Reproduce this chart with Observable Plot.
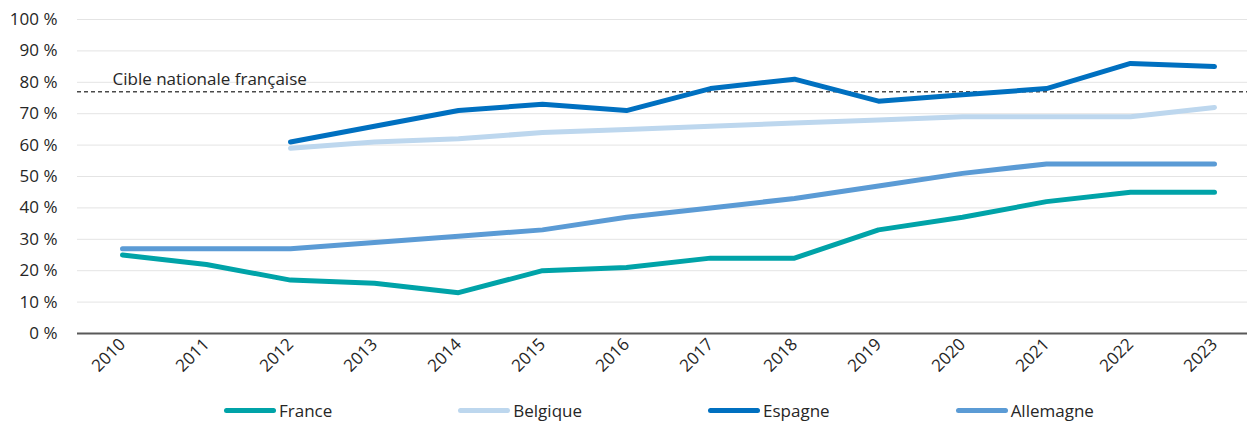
<!DOCTYPE html>
<html lang="fr">
<head>
<meta charset="utf-8">
<script src="https://cdn.jsdelivr.net/npm/d3@7"></script>
<script src="https://cdn.jsdelivr.net/npm/@observablehq/plot@0.6"></script>
<style>
  html, body { margin: 0; padding: 0; background: #fff; }
  body { width: 1247px; height: 421px; overflow: hidden; font-family: "Open Sans", sans-serif; color: #262626; }
  #chart svg { display: block; }
  .legend { display: flex; gap: 126px; padding-left: 224px; padding-top: 2px; height: 21px; align-items: center; font-size: 17px; }
  .legend .item { display: flex; align-items: center; gap: 3px; }
  .legend .swatch { width: 52px; height: 5px; border-radius: 2.5px; }
</style>
</head>
<body>
<div id="chart"></div>
<div class="legend" id="legend"></div>
<script>
// Années
const years = [2010, 2011, 2012, 2013, 2014, 2015, 2016, 2017, 2018, 2019, 2020, 2021, 2022, 2023];

// Part (%) par pays
const france    = [25, 22, 17, 16, 13, 20, 21, 24, 24, 33, 37, 42, 45, 45];
const belgique  = [null, null, 59, 61, 62, 64, 65, 66, 67, 68, 69, 69, 69, 72];
const espagne   = [null, null, 61, 66, 71, 73, 71, 78, 81, 74, 76, 78, 86, 85];
const allemagne = [27, 27, 27, 29, 31, 33, 37, 40, 43, 47, 51, 54, 54, 54];

// Cible nationale française
const cible = 77;
const cibleLabel = "Cible nationale française";

const yTicks = [0, 10, 20, 30, 40, 50, 60, 70, 80, 90, 100];

const series = [
  {name: "France",    values: france,    color: "#00a3a8"},
  {name: "Belgique",  values: belgique,  color: "#bdd7ee"},
  {name: "Espagne",   values: espagne,   color: "#0070c0"},
  {name: "Allemagne", values: allemagne, color: "#5b9bd5"}
];

const rows = series.flatMap(s =>
  years.map((year, i) => ({pays: s.name, year, value: s.values[i]}))
    .filter(d => d.value != null)
);

const plot = Plot.plot({
  width: 1247,
  height: 398,
  marginTop: 19,
  marginLeft: 77,
  marginRight: 0,
  marginBottom: 65,
  style: {fontFamily: "Open Sans, sans-serif", fontSize: "17px", color: "#262626", background: "#fff"},
  x: {type: "point", domain: years, padding: 0, insetLeft: 42, insetRight: 31},
  y: {domain: [0, 100]},
  color: {domain: series.map(s => s.name), range: series.map(s => s.color)},
  marks: [
    Plot.ruleY(yTicks.filter(t => t > 0), {stroke: "#e4e4e4", strokeWidth: 1}),
    Plot.ruleY([cible], {stroke: "#4a4a4a", strokeWidth: 1.5, strokeDasharray: "4,3"}),
    Plot.text([cibleLabel], {x: () => years[0], y: () => cible, text: d => d, textAnchor: "start",
      lineAnchor: "bottom", dx: -10, dy: -7, fontSize: 17, fill: "#262626"}),
    Plot.ruleY([0], {stroke: "#595959", strokeWidth: 2}),
    Plot.axisY({ticks: yTicks, tickFormat: d => `${d} %`, tickSize: 0, tickPadding: 20, fontSize: 17, label: null}),
    Plot.axisX({tickRotate: -45, tickSize: 0, tickPadding: 8, tickFormat: d => `${d}`, fontSize: 17, label: null}),
    Plot.line(rows, {x: "year", y: "value", z: "pays", stroke: "pays", strokeWidth: 5,
      strokeLinecap: "round", strokeLinejoin: "miter"})
  ]
});
document.getElementById("chart").appendChild(plot);

const legend = document.getElementById("legend");
for (const s of series) {
  const item = document.createElement("div");
  item.className = "item";
  const sw = document.createElement("span");
  sw.className = "swatch";
  sw.style.background = s.color;
  const label = document.createElement("span");
  label.textContent = s.name;
  item.append(sw, label);
  legend.appendChild(item);
}
</script>
</body>
</html>
